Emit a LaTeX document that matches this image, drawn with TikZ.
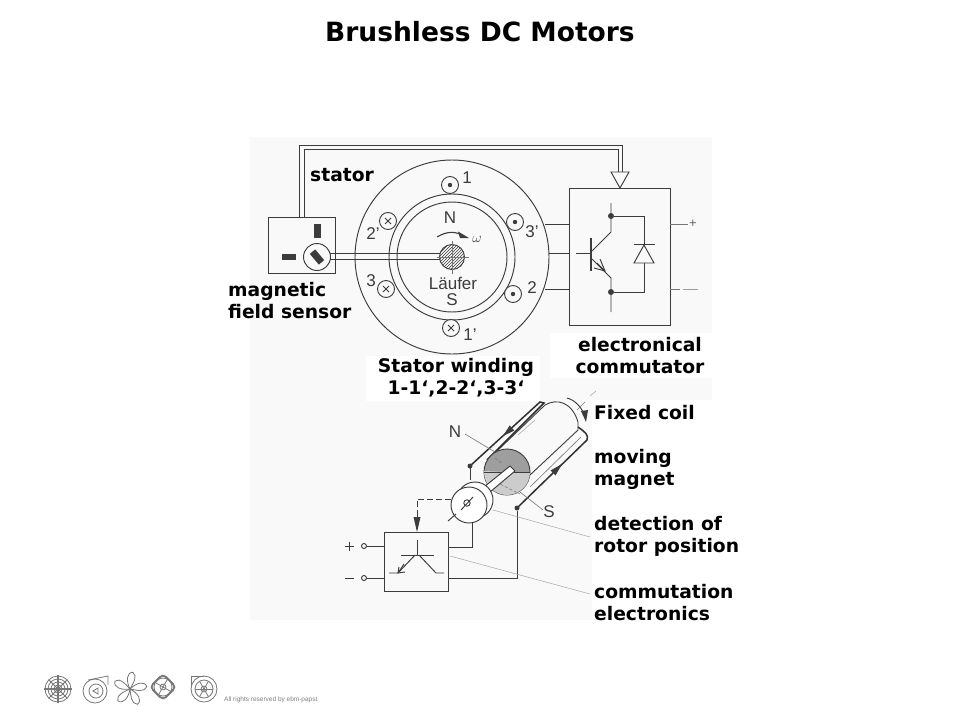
\documentclass[tikz,border=0pt]{standalone}
\usepackage{fontspec}
\usetikzlibrary{arrows.meta,patterns,calc}
\setmainfont{DejaVu Sans}
\newfontfamily\figfont{Liberation Sans}
\definecolor{ink}{HTML}{3C3C3C}
\definecolor{panel}{HTML}{F9F9F9}
\definecolor{iconc}{HTML}{777777}
\tikzset{
  ln/.style={draw=ink,line width=0.95pt},
  thick ln/.style={draw=ink!80!black,line width=1.5pt},
  fine/.style={draw=ink!70,line width=0.6pt},
  lead/.style={draw=black!35,line width=0.5pt},
  lbl/.style={font=\bfseries\fontsize{18.7}{22}\selectfont,text=black,inner sep=0pt,align=left,anchor=west},
  lblc/.style={font=\bfseries\fontsize{18.7}{22}\selectfont,text=black,inner sep=0pt,align=center},
  fig/.style={font=\figfont\fontsize{17}{18}\selectfont,text=ink,inner sep=0pt},
  dotc/.style={circle,fill=ink,inner sep=0pt,minimum size=6pt},
  icon/.style={draw=iconc,line width=0.8pt},
  wnd/.style={circle,draw=ink,line width=0.9pt,minimum size=17pt,inner sep=0pt,fill=panel}
}
\begin{document}
\begin{tikzpicture}[x=1pt,y=-1pt]
\useasboundingbox (0,0) rectangle (960,720);
\fill[white] (0,0) rectangle (960,720);
% scanned panel
\fill[panel] (250,137) rectangle (712,400);
\fill[panel] (250,400) rectangle (592,620);
\fill[white] (366,356) rectangle (540,401);
\fill[white] (550,333) rectangle (712,378);

% ---- upper figure: double lead
\draw[ln] (299,217) -- (299,145) -- (622,145) -- (622,172);
\draw[ln] (304,217) -- (304,149) -- (618,149) -- (618,172);
\draw[ln,fill=panel] (611,172) -- (629,172) -- (620,188) -- cycle;

% stator
\coordinate (c) at (452,257);
\draw[ln] (c) circle[radius=97];
\draw[ln] (c) circle[radius=63];
\draw[ln] (c) circle[radius=55];

% windings
\node[wnd] (w1) at (450,185) {};
\fill[ink] (w1) circle[radius=2.2];
\node[wnd] (w3p) at (515,222) {};
\fill[ink] (w3p) circle[radius=2.2];
\node[wnd] (w2) at (513,294) {};
\fill[ink] (w2) circle[radius=2.2];
\foreach \n/\p in {w2p/{388,221},w3/{386,289},w1p/{451,328}}{
  \node[wnd] (\n) at (\p) {};
  \draw[ln,line width=0.8pt] ([shift={(-3,-3)}]\n.center) -- ([shift={(3,3)}]\n.center);
  \draw[ln,line width=0.8pt] ([shift={(-3,3)}]\n.center) -- ([shift={(3,-3)}]\n.center);
}
\node[fig] (t1) at (467,178) {1};
\node[fig] (t2p) at (373,234) {2’};
\node[fig] (t3) at (371,281) {3};
\node[fig] (t1p) at (470,335) {1’};
\node[fig] (t3p) at (532,232) {3’};
\node[fig] (t2) at (532,288) {2};

% rotor
\node[fig] (nn) at (450,218) {N};
\node[fig] (ss) at (452,300) {S};
\node[fig] (lf) at (453,283) {Läufer};
\node[fig,font=\figfont\itshape\fontsize{15}{15}\selectfont] (om) at (477,239) {$\omega$};
\draw[ln,line width=1.1pt] (437,237) .. controls (447,231) and (456,231) .. (463,236);
\fill[ink] (469,238) -- (458,231.5) -- (460,238) -- cycle;
\draw[ln,pattern=north east lines,pattern color=ink] (c) circle[radius=12.5];
\draw[fine] (452,241) -- (452,274);
\draw[fine] (437,257) -- (469,257);

% sensor box
\node[ln,rectangle,minimum width=67pt,minimum height=56pt,inner sep=0pt] (sensor) at (301.5,245) {};
\fill[ink] (313.5,224) rectangle (320.5,238);
\fill[ink] (282,254) rectangle (296,260);
\node[circle,ln,minimum size=27pt,inner sep=0pt,fill=panel] (sc) at (317,257) {};
\fill[ink,rotate around={-50:(317,257)}] (310,253.5) rectangle (324,260.5);
\draw[ln] (330,253) -- (440,253);
\draw[ln] (330,259) -- (440,259);

% commutator
\node[ln,rectangle,minimum width=101pt,minimum height=137pt,inner sep=0pt] (comm) at (619.5,256.5) {};
\draw[ln] (545,224) -- (569,224);
\draw[ln] (549,253) -- (569,253);
\draw[ln] (545,289) -- (569,289);
\draw[ln,draw=ink!70] (670,224) -- (688,224);
\node[font=\figfont\fontsize{13}{13}\selectfont,text=ink!80,inner sep=0pt] (plus) at (693,223.5) {+};
\draw[ln,draw=ink!70] (670,289) -- (680,289);
\draw[ln,draw=ink!50] (683,289) -- (698,289);
% transistor
\draw[ln] (576,253) -- (591,253);
\draw[ln,line width=1.3pt] (591,238) -- (591,271);
\draw[ln] (592,251) -- (611,232) -- (611,203);
\draw[ln] (592,259) -- (611,278) -- (611,312);
\draw[ln] (594,268) -- (605,271) -- (600,259);
\draw[ln] (597,263) -- (605,271);
\node[dotc] (d1) at (611,216) {};
\node[dotc] (d2) at (611,292) {};
\draw[ln] (d1) -- (644,216) -- (644,292) -- (d2);
\draw[ln,fill=panel] (644,245) -- (654,263) -- (634,263) -- cycle;
\draw[ln] (634,244) -- (655,244);

% ---- lower figure
% cylinder
\draw[ln,line width=0.9pt] (498,450) -- (545,405) .. controls (557,398) and (572,402) .. (578,422) -- (578,430) -- (530,475);
\draw[lead] (518,435) -- (535,420);
% coil
\draw[thick ln] (470,466) -- (540,402) -- (544,403) -- (487,460);
\draw[thick ln] (517,508) -- (587,440) .. controls (589,435) and (585,432) .. (578,427);
\draw[fine] (530,487) -- (581,437);
\fill[ink] (503,436) -- (514.3,430.6) -- (509.7,425.4) -- cycle;
\fill[ink] (562,464) -- (555.5,475.5) -- (550.5,470.5) -- cycle;
\node[dotc,minimum size=5pt] (cd1) at (470,466) {};
\node[dotc,minimum size=5pt] (cd2) at (517,508) {};
% magnet disc
\node[circle,draw=ink,line width=0.9pt,minimum size=46pt,inner sep=0pt,fill=black!38] (mag) at (507,472) {};
\begin{scope}
\clip (507,472) circle[radius=23];
\fill[black!20] (484,471) -- (530,473) -- (530,500) -- (484,500) -- cycle;
\end{scope}
\draw[ln] (mag.west) -- (mag.east);
\draw[fine,densely dashed] (496,482) -- (520,494);
\draw[fine,densely dashed] (495,458) -- (502,463);
% shaft
\fill[white] (484,487) -- (510,466) -- (515,471) -- (490,492) -- cycle;
\draw[ln] (484,487) -- (510,466);
\draw[ln] (490,492) -- (515,471);
\draw[ln] (510,466) -- (515,471);
% encoder
\draw[ln] (470,466) -- (470,480);
\node[circle,ln,minimum size=36pt,inner sep=0pt,fill=white] (encb) at (475,500) {};
\node[circle,ln,minimum size=36pt,inner sep=0pt,fill=white] (enc) at (469,505) {};
\draw[ln] (467,503) circle[radius=3.2];
\draw[ln] (461,510) -- (473,497);
\draw[ln] (448,521) -- (456,514);
% dashed signal
\draw[ln,dash pattern=on 6pt off 3pt] (451,499) -- (417,499) -- (417,515);
\draw[ln] (417,515) -- (417,524);
\fill[ink] (417,532) -- (413.5,517) -- (420.5,517) -- cycle;
% rotation arrow
\draw[ln] (567,398) .. controls (575,400) and (581,407) .. (584,414);
\fill[ink] (586,422) -- (581,411) -- (588,410) -- cycle;
\draw[fine] (577,410) -- (585,402);
\draw[lead] (590,396) -- (596,391);
% labels
\node[fig] (ln) at (455,432) {N};
\node[fig] (ls) at (549,512) {S};
\draw[fine] (465,434) -- (495,452);
\draw[fine] (543,510) -- (520,492);
% electronics box
\node[ln,rectangle,minimum width=64pt,minimum height=59pt,inner sep=0pt] (ebox) at (416,561.5) {};
\node[circle,ln,minimum size=5pt,inner sep=0pt] (tp) at (364,546) {};
\node[circle,ln,minimum size=5pt,inner sep=0pt] (tm) at (364,578) {};
\draw[ln] (tp) -- (tp -| ebox.west);
\draw[ln] (tm) -- (tm -| ebox.west);
\draw[ln] (345,546) -- (354,546);
\draw[ln] (349.5,541.5) -- (349.5,550.5);
\draw[ln] (345,578) -- (354,578);
\draw[ln] (417,540) -- (417,555);
\draw[ln] (401,555) -- (434,555);
\draw[ln] (415,555) -- (398,573) -- (389,573);
\draw[ln] (419,555) -- (436,573) -- (444,573);
\draw[ln] (399,567) -- (398,573) -- (405,572);
\draw[ln] (404,564) -- (398,573);
\draw[ln] (448,547) -- (472,547) -- (472,523);
\draw[ln] (448,578) -- (517,578) -- (cd2);
% leaders
\draw[lead] (493,510) -- (590,537);
\draw[lead] (450,556) -- (590,594);

% ---- labels
\node[font=\bfseries\fontsize{26.5}{30}\selectfont,inner sep=0pt] (title) at (480,32) {Brushless DC Motors};
\node[lbl] (a) at (310,175) {stator};
\node[lbl] (b) at (228,301) {magnetic\\field sensor};
\node[lblc] (cc) at (456,378) {Stator winding\\1-1‘,2-2‘,3-3‘};
\node[lblc] (e) at (640,356) {electronical\\commutator};
\node[lbl] (f1) at (594,413) {Fixed coil};
\node[lbl] (f2) at (594,469) {moving\\magnet};
\node[lbl] (f3) at (594,536) {detection of\\rotor position};
\node[lbl] (f4) at (594,603) {commutation\\electronics};

% ---- footer icons
% 1 grille
\foreach \r in {4,7,10,13} \draw[icon] (58,689) circle[radius=\r];
\foreach \a in {0,45,...,315} \draw[icon] (58,689) -- ++(\a:13);
\draw[icon,line width=1.4pt] (44,689) -- (72,689);
\draw[icon,line width=1.4pt] (58,675) -- (58,703);
% 2 blower
\draw[icon] (95,691) circle[radius=12];
\draw[icon] (96,691) circle[radius=7];
\draw[icon] (88,680) -- (108,676) -- (108,685);
\draw[icon] (93,691) -- (98,688) -- (98,694) -- cycle;
% 3 fan
\foreach \a in {0,72,...,288}{
  \draw[icon] (130,689) .. controls ($(130,689)+(\a-45:9)$) and ($(130,689)+(\a-30:17)$) .. ($(130,689)+(\a-8:17)$) .. controls ($(130,689)+(\a+15:15)$) and ($(130,689)+(\a+10:6)$) .. (130,689);
}
% 4 axial
\draw[icon,line width=1.8pt,rounded corners=4pt] (163,674) -- (176,687) -- (163,700) -- (150,687) -- cycle;
\draw[icon] (163,687) circle[radius=9];
\draw[icon] (163,687) circle[radius=3];
\foreach \a in {30,120,...,300} \draw[icon] (163,687) -- ++(\a:9);
% 5 blower
\draw[icon] (191,676) -- (204,676);
\draw[icon] (191,676) -- (191,686);
\draw[icon] (204,689) circle[radius=13];
\draw[icon] (204,689) circle[radius=9];
\draw[icon] (204,689) circle[radius=3];
\foreach \a in {0,60,...,300} \draw[icon] (204,689) -- ++(\a:9);
\node[font=\figfont\fontsize{6.5}{8}\selectfont,text=black!50,inner sep=0pt,anchor=west] (copy) at (224,700) {All rights reserved by ebm-papst};
\end{tikzpicture}
\end{document}
